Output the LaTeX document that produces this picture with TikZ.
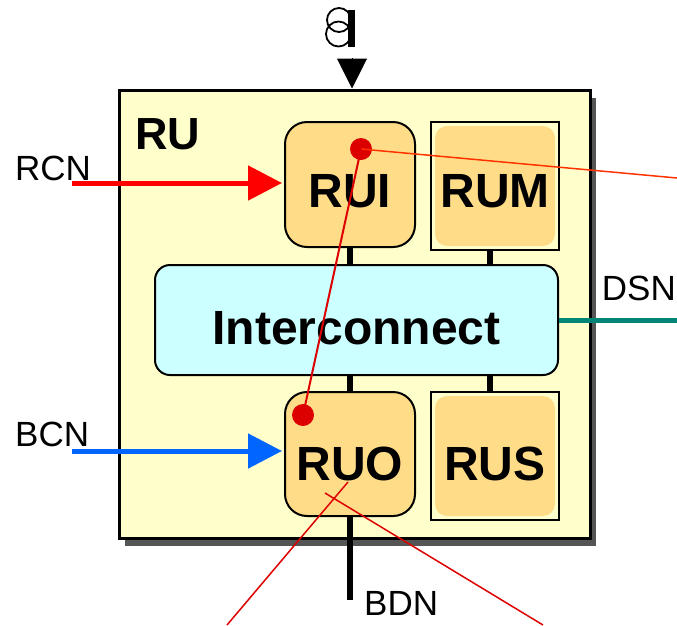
\documentclass[tikz,border=0pt]{standalone}
\usepackage{fontspec}
\setmainfont{Liberation Sans}
\usetikzlibrary{positioning,arrows.meta,calc,shadows}

\definecolor{rucream}{HTML}{FFFFCC}
\definecolor{unitfill}{HTML}{FFDD88}
\definecolor{iccyan}{HTML}{CCFFFF}
\definecolor{shadowgray}{HTML}{555555}
\definecolor{rcnred}{HTML}{FF0000}
\definecolor{bcnblue}{HTML}{0066FF}
\definecolor{dsnteal}{HTML}{008577}
\definecolor{dotred}{HTML}{DD0000}
\definecolor{traceorange}{HTML}{FF3300}

\begin{document}
\begin{tikzpicture}[x=1pt, y=-1pt,
  lbl/.style={font=\fontsize{35}{35}\selectfont, inner sep=0pt},
  big/.style={font=\fontsize{48}{48}\selectfont\bfseries, inner sep=0pt, text depth=0pt},
  rubox/.style={draw, line width=3pt, fill=rucream, minimum width=471pt, minimum height=448pt,
    general shadow={fill=shadowgray, shadow xshift=6pt, shadow yshift=-8pt}},
  unit/.style={big, draw, line width=2pt, fill=unitfill, rounded corners=22pt, minimum width=130pt, minimum height=125pt},
  slot/.style={big, draw, line width=2pt, fill=rucream, minimum width=128pt, minimum height=128pt,
    path picture={\fill[unitfill, rounded corners=12pt]
      ([shift={(4pt,4pt)}]path picture bounding box.south west) rectangle
      ([shift={(-4pt,-4pt)}]path picture bounding box.north east);}},
  icbox/.style={big, draw, line width=2pt, fill=iccyan, rounded corners=15pt, minimum width=403pt, minimum height=110pt},
  bus/.style={line width=6pt},
  netarr/.style={line width=5pt, -{Triangle[length=34pt,width=34pt]}, shorten >=2pt},
  trace/.style={line width=1.5pt, dotred},
  dot/.style={circle, fill=dotred, minimum size=22pt, inner sep=0pt}]
\useasboundingbox (0,0) rectangle (677,625);

% RU with its units
\node[rubox] (ru) at (354.5,314) {};
\node[big, font=\fontsize{45}{45}\selectfont\bfseries] (rutitle) at (168,134) {RU};
\node[unit, text height=45pt] (rui) at (350,184.5) {RUI};
\node[slot, text height=43pt] (rum) at (495,186) {RUM};
\node[icbox, text height=48pt] (ic) at (356.5,320) {Interconnect};
\node[unit, text height=52pt, minimum height=124pt] (ruo) at (350,454) {RUO};
\node[slot, text height=48pt] (rus) at (495,456) {RUS};
\draw[bus] (rui.south) -- (rui.south |- ic.north);
\draw[bus] ([xshift=-5pt]rum.south) -- ([xshift=-5pt]rum.south |- ic.north);
\draw[bus] (ruo.north) -- (ruo.north |- ic.south);
\draw[bus] ([xshift=-5pt]rus.north) -- ([xshift=-5pt]rus.north |- ic.south);

% clock input
\draw[line width=1.8pt] (339,20) circle[radius=12pt];
\draw[line width=1.8pt] (338.5,34) circle[radius=12.5pt];
\fill (348,10) rectangle (355,47);
\coordinate (clk) at (352,58);
\draw[line width=1pt, -{Triangle[length=30pt,width=30pt]}] (clk) -- (clk |- ru.north);

% networks
\coordinate (rcnin) at (72,183);
\coordinate (bcnin) at (72,451);
\coordinate (dsnout) at (677,318);
\coordinate (bdnend) at (348,600);
\node[lbl, anchor=south west] (rcn) at (15,181) {RCN};
\node[lbl, anchor=south west] (bcn) at (15,447) {BCN};
\node[lbl, anchor=south east] (dsn) at (676,301) {DSN};
\node[lbl, anchor=north west] (bdn) at (364,591) {BDN};
\draw[netarr, rcnred] (rcnin) -- (rcnin -| rui.west);
\draw[netarr, bcnblue] (bcnin) -- (bcnin -| ruo.west);
\draw[line width=5pt, dsnteal] (ic.east) -- (ic.east -| dsnout);
\draw[bus] (ruo.south) -- (ruo.south |- bdnend);

% red traces
\node[dot] (d1) at (361,149) {};
\node[dot] (d2) at (303,415) {};
\coordinate (eo) at (677,178);
\coordinate (xa) at (348,482);
\coordinate (xb) at (325,493);
\coordinate (ea) at (227,625);
\coordinate (eb) at (543,625);
\draw[trace, traceorange] (d1.center) -- (eo);
\draw[trace, line width=2pt] (d1.center) -- (d2.center);
\draw[trace] (xa) -- (ea);
\draw[trace] (xb) -- (eb);
\end{tikzpicture}
\end{document}
